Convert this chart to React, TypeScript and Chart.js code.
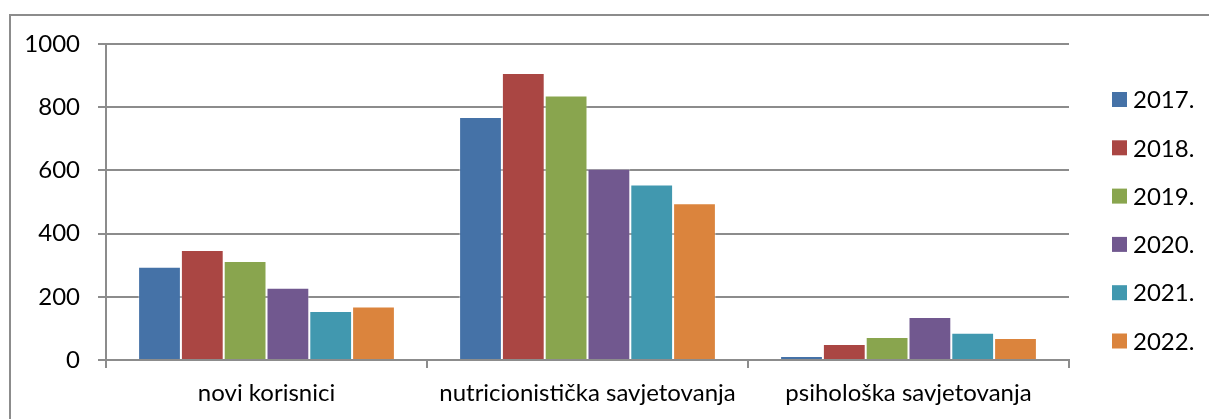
import React, { useEffect, useRef } from "react";
import { Chart, registerables } from "chart.js";

Chart.register(...registerables);

const categories = ["novi korisnici", "nutricionistička savjetovanja", "psihološka savjetovanja"];
const seriesLabels = ["2017.", "2018.", "2019.", "2020.", "2021.", "2022."];
const values2017 = [295, 769, 13];
const values2018 = [348, 908, 51];
const values2019 = [313, 837, 73];
const values2020 = [229, 605, 136];
const values2021 = [155, 555, 86];
const values2022 = [169, 496, 70];
const seriesColors = ["#4572A7", "#AA4643", "#89A54E", "#71588F", "#4198AF", "#DB843D"];
const yMin = 0;
const yMax = 1000;
const yStep = 200;

const FONT = "Lato, Carlito, Calibri, sans-serif";
const FONT_SIZE = 24;
const GRID = "#8c8c8c";

const framePlugin = {
  id: "frame",
  beforeDraw(chart: any) {
    const ctx = chart.ctx;
    ctx.save();
    ctx.strokeStyle = GRID;
    ctx.lineWidth = 2;
    ctx.strokeRect(10, 15, chart.width + 50, chart.height + 50);
    ctx.restore();
  },
};

const legendPlugin = {
  id: "sideLegend",
  afterDraw(chart: any) {
    const ctx = chart.ctx;
    const area = chart.chartArea;
    ctx.save();
    ctx.font = `${FONT_SIZE}px ${FONT}`;
    ctx.textBaseline = "middle";
    ctx.textAlign = "left";
    const x = area.right + 43;
    const startY = 99.5;
    const step = 48.3;
    chart.data.datasets.forEach((ds: any, i: number) => {
      const cy = startY + i * step;
      ctx.fillStyle = ds.backgroundColor;
      ctx.fillRect(x, cy - 7.5, 15, 15);
      ctx.fillStyle = "#000";
      ctx.fillText(ds.label, x + 21, cy + 1);
    });
    ctx.restore();
  },
};

export default function App() {
  const canvasRef = useRef<HTMLCanvasElement | null>(null);

  useEffect(() => {
    const canvas = canvasRef.current;
    if (!canvas) return;
    const seriesValues = [values2017, values2018, values2019, values2020, values2021, values2022];
    const chart = new Chart(canvas, {
      type: "bar",
      data: {
        labels: categories,
        datasets: seriesLabels.map((label, i) => ({
          label,
          data: seriesValues[i],
          backgroundColor: seriesColors[i],
          borderColor: "rgba(255,255,255,0.35)",
          borderWidth: 1,
          categoryPercentage: 0.8,
          barPercentage: 1.0,
        })),
      },
      options: {
        responsive: false,
        animation: false,
        devicePixelRatio: 1,
        layout: { padding: { top: 44, right: 140, left: 0, bottom: 0 } },
        plugins: {
          legend: { display: false },
          tooltip: { enabled: false },
          title: { display: false },
        },
        scales: {
          x: {
            grid: {
              offset: true,
              drawOnChartArea: false,
              drawTicks: true,
              tickLength: 8,
              color: GRID,
              lineWidth: 2,
            },
            border: { display: true, color: GRID, width: 2 },
            ticks: {
              font: { family: FONT, size: FONT_SIZE },
              color: "#000",
              padding: 11,
              maxRotation: 0,
              autoSkip: false,
            },
            afterFit: (s: any) => {
              s.height = 59;
            },
          },
          y: {
            min: yMin,
            max: yMax,
            ticks: {
              stepSize: yStep,
              font: { family: FONT, size: FONT_SIZE },
              color: "#000",
              padding: 18,
              callback: (v: any) => String(v),
            },
            grid: { color: GRID, lineWidth: 2, tickLength: 8, drawTicks: true },
            border: { display: true, color: GRID, width: 2 },
            afterFit: (s: any) => {
              s.width = 106;
            },
          },
        },
      },
      plugins: [framePlugin, legendPlugin],
    });
    return () => chart.destroy();
  }, []);

  return (
    <div style={{ position: "absolute", left: 0, top: 0, width: 1209, height: 419, background: "#fff" }}>
      <canvas ref={canvasRef} width={1209} height={419} style={{ width: 1209, height: 419, display: "block" }} />
    </div>
  );
}
